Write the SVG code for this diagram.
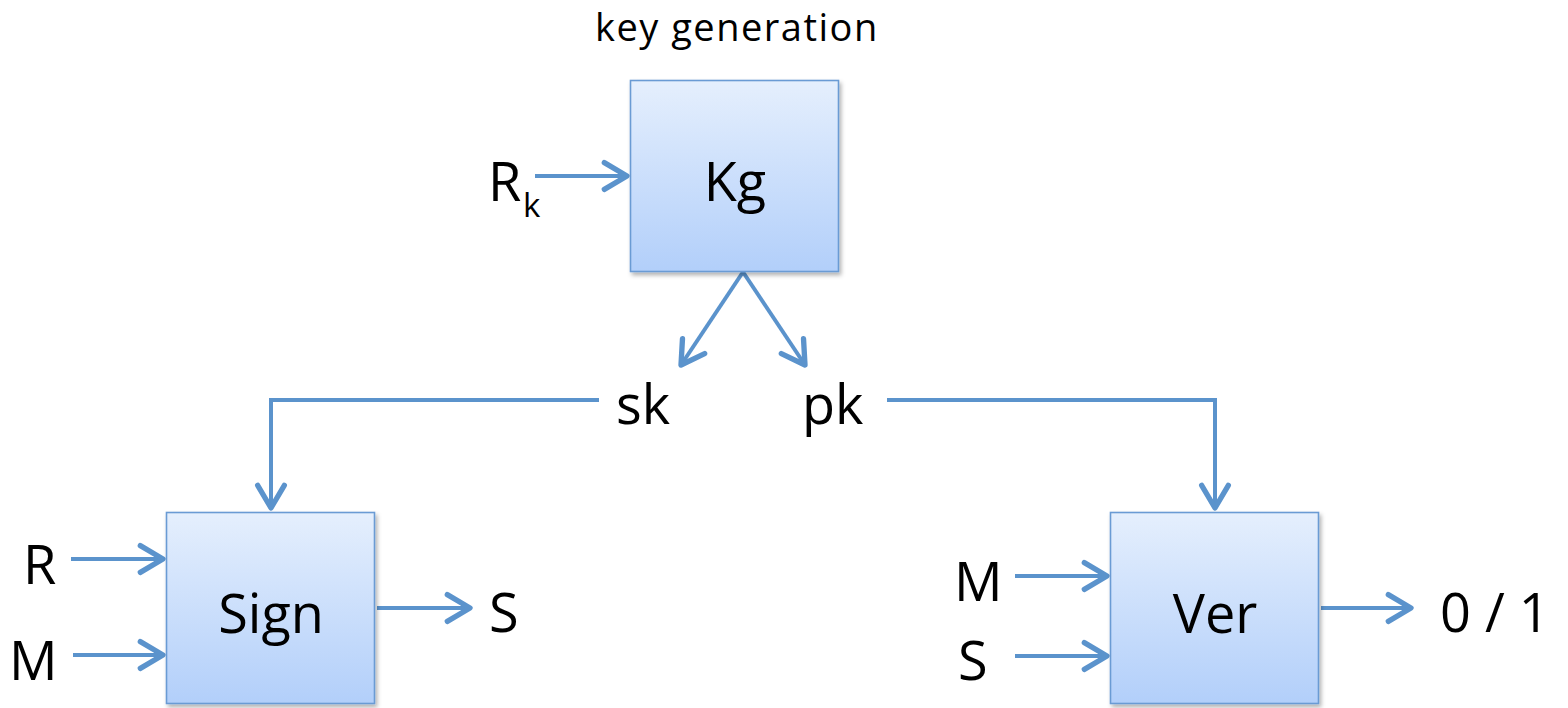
<svg xmlns="http://www.w3.org/2000/svg" width="1568" height="708" viewBox="0 0 1568 708">
<style>
  .box { fill: url(#boxfill); stroke: #6a9bd4; stroke-width: 1.6; filter: url(#shadow); }
  .lbl { font-family: "Open Sans", "Liberation Sans", sans-serif; font-size: 54px; fill: #000; }
  .title { font-family: "Open Sans", "Liberation Sans", sans-serif; font-size: 38px; letter-spacing: 1.5px; fill: #000; }
  .sub { font-family: "Open Sans", "Liberation Sans", sans-serif; font-size: 33px; fill: #000; }
  .conn { fill: none; stroke: #5b93cc; stroke-width: 4; marker-end: url(#ah); }
</style>
<defs>
  <linearGradient id="boxfill" x1="0" y1="0" x2="0" y2="1">
    <stop offset="0" stop-color="#e5effd"/>
    <stop offset="1" stop-color="#b2cffa"/>
  </linearGradient>
  <filter id="shadow" x="-10%" y="-10%" width="125%" height="125%">
    <feDropShadow dx="2" dy="3" stdDeviation="2" flood-color="#000" flood-opacity="0.3"/>
  </filter>
  <marker id="ah" markerUnits="userSpaceOnUse" orient="auto" markerWidth="40" markerHeight="40" viewBox="-25 -15 30 30" refX="0" refY="0" overflow="visible">
    <path d="M-17,-10 L0,0 L-17,10" fill="none" stroke="#5b93cc" stroke-width="4" stroke-linecap="round" stroke-linejoin="round"/>
  </marker>
</defs>

<text class="title" x="595" y="41">key generation</text>

<g id="connectors">
  <path class="conn" d="M535,176 H627"/>
  <path class="conn" d="M743,272 L681,365"/>
  <path class="conn" d="M743,272 L805,365"/>
  <path class="conn" d="M599,400 H271 V508"/>
  <path class="conn" d="M887,400 H1215 V508"/>
  <path class="conn" d="M71,559 H163"/>
  <path class="conn" d="M73,655 H163"/>
  <path class="conn" d="M377,608 H470"/>
  <path class="conn" d="M1015,576 H1107"/>
  <path class="conn" d="M1015,656 H1107"/>
  <path class="conn" d="M1321,608 H1411"/>
</g>

<g id="kg">
  <rect class="box" x="630.5" y="80.5" width="208" height="191"/>
  <text class="lbl" x="735" y="201" text-anchor="middle">Kg</text>
</g>
<g id="sign">
  <rect class="box" x="166.5" y="512.5" width="208" height="191"/>
  <text class="lbl" x="271" y="633" text-anchor="middle">Sign</text>
</g>
<g id="ver">
  <rect class="box" x="1110.5" y="512.5" width="208" height="191"/>
  <text class="lbl" x="1215" y="633" text-anchor="middle">Ver</text>
</g>

<g id="rk"><text class="lbl" x="488" y="201">R</text><text class="sub" x="523" y="217">k</text></g>
<g id="sk"><text class="lbl" x="616" y="424">sk</text></g>
<g id="pk"><text class="lbl" x="802" y="424">pk</text></g>
<g id="r"><text class="lbl" x="23" y="584">R</text></g>
<g id="m1"><text class="lbl" x="9" y="680">M</text></g>
<g id="s1"><text class="lbl" x="489" y="632">S</text></g>
<g id="m2"><text class="lbl" x="954" y="601">M</text></g>
<g id="s2"><text class="lbl" x="958" y="680">S</text></g>
<g id="out"><text class="lbl" x="1440" y="632">0 / 1</text></g>
</svg>
